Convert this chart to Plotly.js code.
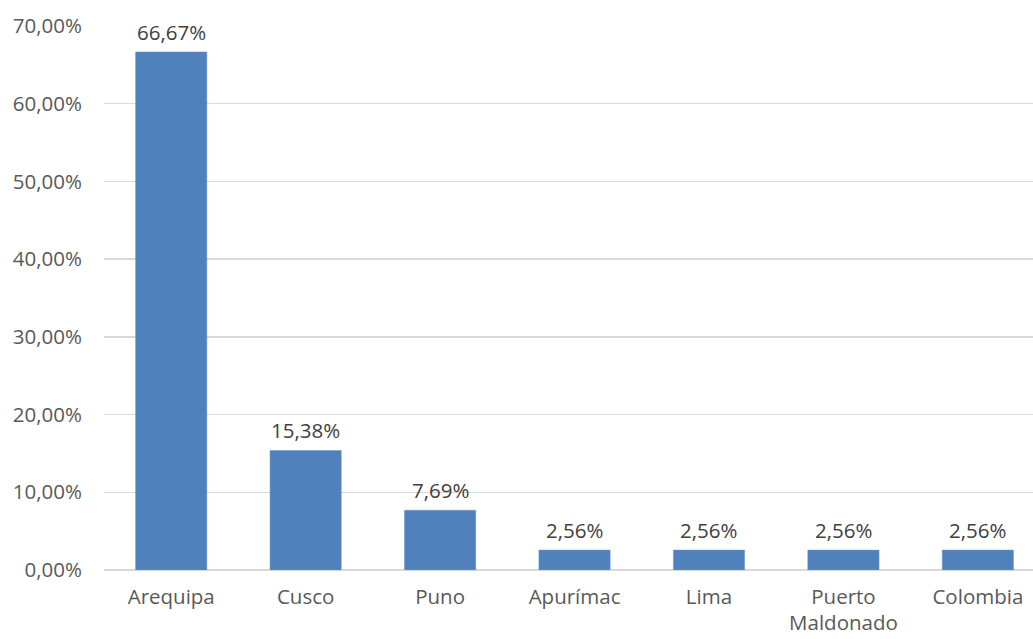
<!DOCTYPE html>
<html><head><meta charset="utf-8">
<script src="https://cdn.plot.ly/plotly-3.0.1.min.js"></script>
<style>html,body{margin:0;padding:0;background:#fff;}#chart{width:1033px;height:639px;}</style>
</head><body><div id="chart"></div>
<script>
const categories = ["Arequipa", "Cusco", "Puno", "Apurímac", "Lima", "Puerto<br>Maldonado", "Colombia"];
const values = [66.67, 15.38, 7.69, 2.56, 2.56, 2.56, 2.56];
const yTicks = [0, 10, 20, 30, 40, 50, 60, 70];

const fontFam = "'Open Sans', sans-serif";
const fs = 20.5;
const fmt = v => v.toFixed(2).replace(".", ",") + "%";
const trace = {
  type: "bar",
  x: categories,
  y: values,
  width: 0.53,
  marker: {color: "#4f81bd", line: {color: "#6f97cc", width: 0.5}},
  cliponaxis: false,
  hoverinfo: "skip"
};
const annotations = categories.map((c, i) => ({
  x: c, y: values[i], xref: "x", yref: "y",
  text: fmt(values[i]), showarrow: false, yanchor: "bottom", yshift: 4,
  font: {family: fontFam, size: fs, color: "#404040"}
}));
const layout = {
  width: 1033, height: 639,
  margin: {l: 104, r: 0, t: 26, b: 69},
  paper_bgcolor: "#fff", plot_bgcolor: "#fff",
  showlegend: false,
  font: {family: fontFam, size: fs, color: "#595959"},
  annotations: annotations,
  xaxis: {type: "category", range: [-0.5, 6.41], showgrid: false, zeroline: false,
          showline: false, ticks: "", ticklabelstandoff: 12,
          tickfont: {family: fontFam, size: fs, color: "#595959"}},
  yaxis: {range: [0, 70], tickvals: yTicks,
          ticktext: yTicks.map(fmt),
          showgrid: true, gridcolor: "#d9d9d9", gridwidth: 1.3, zeroline: true, zerolinecolor: "#d9d9d9", zerolinewidth: 1.3,
          showline: false, ticks: "", ticklabelstandoff: 21,
          tickfont: {family: fontFam, size: fs, color: "#595959"}}
};
Plotly.newPlot("chart", [trace], layout, {displayModeBar: false, staticPlot: true});
</script></body></html>
